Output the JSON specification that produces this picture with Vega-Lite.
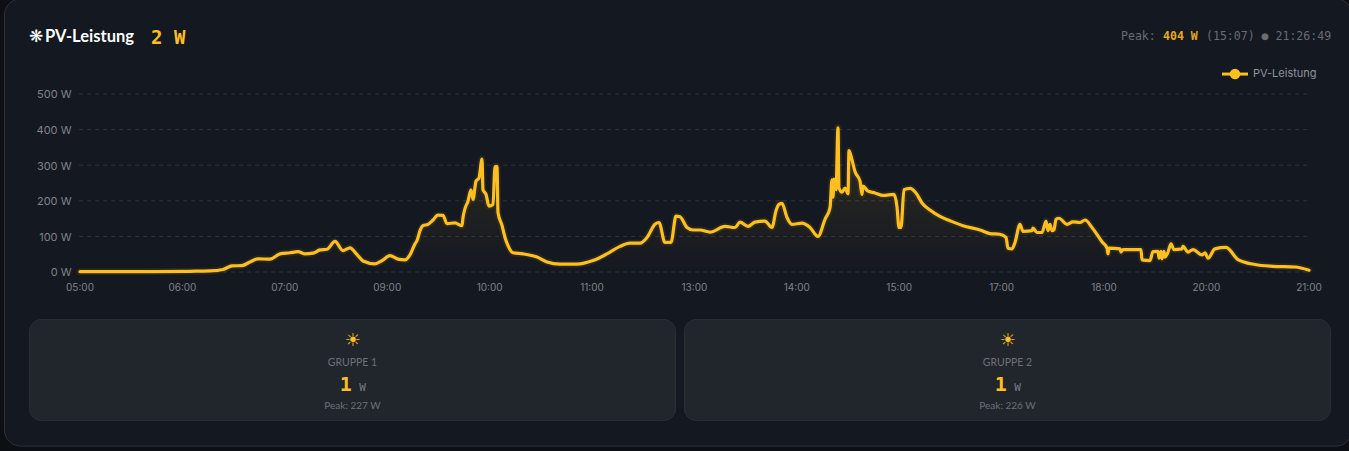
{"$schema":"https://vega.github.io/schema/vega-lite/v6.json","width":1349,"height":451,"autosize":"none","padding":0,"background":"#0c0f14","config":{"view":{"stroke":null},"text":{"baseline":"middle"}},
"datasets":{"pv":[{"s":0,"w":1},{"s":60,"w":1},{"s":110,"w":2},{"s":130,"w":3},{"s":143,"w":7},{"s":152,"w":17},{"s":162,"w":18},{"s":170,"w":28},{"s":178,"w":37},{"s":190,"w":36},{"s":200,"w":51},{"s":210,"w":54},{"s":218,"w":57},{"s":225,"w":51},{"s":233,"w":53},{"s":240,"w":62},{"s":247,"w":64},{"s":255,"w":86},{"s":263,"w":60},{"s":270,"w":68},{"s":277,"w":49},{"s":283,"w":31},{"s":295,"w":23},{"s":302,"w":32},{"s":310,"w":46},{"s":318,"w":36},{"s":325,"w":34},{"s":330,"w":48},{"s":335,"w":79},{"s":337,"w":88},{"s":340,"w":116},{"s":343,"w":130},{"s":348,"w":134},{"s":353,"w":146},{"s":358,"w":160},{"s":363,"w":159},{"s":367,"w":136},{"s":375,"w":138},{"s":382,"w":130},{"s":383,"w":153},{"s":385,"w":178},{"s":388,"w":199},{"s":391,"w":231},{"s":393,"w":204},{"s":396,"w":255},{"s":399,"w":264},{"s":402,"w":317},{"s":403,"w":231},{"s":406,"w":218},{"s":409,"w":185},{"s":413,"w":190},{"s":415,"w":296},{"s":417,"w":296},{"s":418,"w":167},{"s":422,"w":131},{"s":425,"w":97},{"s":428,"w":74},{"s":433,"w":54},{"s":443,"w":51},{"s":457,"w":42},{"s":467,"w":28},{"s":480,"w":22},{"s":497,"w":22},{"s":513,"w":32},{"s":527,"w":51},{"s":540,"w":72},{"s":550,"w":81},{"s":560,"w":81},{"s":567,"w":97},{"s":575,"w":134},{"s":579,"w":139},{"s":585,"w":83},{"s":591,"w":83},{"s":596,"w":157},{"s":600,"w":155},{"s":607,"w":125},{"s":613,"w":118},{"s":620,"w":118},{"s":630,"w":112},{"s":645,"w":128},{"s":655,"w":125},{"s":660,"w":140},{"s":668,"w":128},{"s":675,"w":140},{"s":685,"w":143},{"s":692,"w":125},{"s":696,"w":172},{"s":699,"w":190},{"s":702,"w":193},{"s":707,"w":153},{"s":712,"w":134},{"s":722,"w":137},{"s":730,"w":125},{"s":738,"w":100},{"s":745,"w":148},{"s":750,"w":180},{"s":752,"w":259},{"s":753,"w":210},{"s":754,"w":261},{"s":756,"w":231},{"s":758,"w":405},{"s":759,"w":236},{"s":762,"w":224},{"s":765,"w":236},{"s":768,"w":220},{"s":769,"w":341},{"s":772,"w":315},{"s":775,"w":282},{"s":780,"w":255},{"s":782,"w":218},{"s":783,"w":241},{"s":788,"w":227},{"s":795,"w":222},{"s":803,"w":215},{"s":814,"w":218},{"s":817,"w":183},{"s":819,"w":125},{"s":821,"w":125},{"s":824,"w":231},{"s":830,"w":235},{"s":836,"w":222},{"s":842,"w":194},{"s":850,"w":174},{"s":860,"w":156},{"s":870,"w":144},{"s":883,"w":130},{"s":900,"w":118},{"s":910,"w":108},{"s":920,"w":106},{"s":926,"w":97},{"s":928,"w":67},{"s":932,"w":65},{"s":935,"w":83},{"s":940,"w":134},{"s":943,"w":114},{"s":952,"w":116},{"s":953,"w":123},{"s":957,"w":111},{"s":962,"w":111},{"s":966,"w":143},{"s":968,"w":116},{"s":970,"w":134},{"s":972,"w":116},{"s":974,"w":119},{"s":976,"w":148},{"s":979,"w":151},{"s":987,"w":134},{"s":993,"w":141},{"s":1000,"w":139},{"s":1005,"w":146},{"s":1012,"w":125},{"s":1022,"w":85},{"s":1027,"w":67},{"s":1028,"w":51},{"s":1029,"w":67},{"s":1040,"w":65},{"s":1041,"w":56},{"s":1043,"w":63},{"s":1061,"w":63},{"s":1062,"w":34},{"s":1070,"w":32},{"s":1073,"w":57},{"s":1078,"w":58},{"s":1079,"w":39},{"s":1081,"w":58},{"s":1082,"w":37},{"s":1084,"w":58},{"s":1085,"w":42},{"s":1088,"w":56},{"s":1091,"w":79},{"s":1094,"w":63},{"s":1102,"w":65},{"s":1103,"w":72},{"s":1108,"w":56},{"s":1113,"w":63},{"s":1122,"w":48},{"s":1125,"w":54},{"s":1128,"w":39},{"s":1135,"w":65},{"s":1146,"w":69},{"s":1158,"w":35},{"s":1175,"w":21},{"s":1193,"w":16},{"s":1215,"w":14},{"s":1229,"w":5}]},
"layer":[
{"data":{"values":[{"panel":"PV-Leistung"}]},"mark":{"type":"rect","fill":"#141821","stroke":"#2e323a","strokeWidth":1,"cornerRadius":16},"encoding":{"x":{"datum":-75.5},"x2":{"datum":1272},"y":{"datum":767},"y2":{"datum":-489}}},
{"data":{"values":[{"panel":"Gruppe 1"}]},"mark":{"type":"rect","fill":"#21252c","stroke":"#2b2f37","strokeWidth":1,"cornerRadius":12},"encoding":{"x":{"datum":-50.5},"x2":{"datum":595.5},"y":{"datum":-133.4},"y2":{"datum":-417.1}}},
{"data":{"values":[{"panel":"Gruppe 2"}]},"mark":{"type":"rect","fill":"#21252c","stroke":"#2b2f37","strokeWidth":1,"cornerRadius":12},"encoding":{"x":{"datum":604.5},"x2":{"datum":1250.5},"y":{"datum":-133.4},"y2":{"datum":-417.1}}},
{"data":{"values":[{"g":0},{"g":100},{"g":200},{"g":300},{"g":400},{"g":500}]},"mark":{"type":"rule","stroke":"#30343b","strokeWidth":1,"strokeDash":[4,4]},"encoding":{"x":{"datum":-1},"x2":{"datum":1231},"y":{"field":"g","type":"quantitative"}}},
{"data":{"name":"pv"},"mark":{"type":"area","interpolate":"monotone","color":{"gradient":"linear","x1":0,"y1":0,"x2":0,"y2":1,"stops":[{"offset":0,"color":"rgba(255,192,31,0.12)"},{"offset":1,"color":"rgba(255,192,31,0)"}]}},"encoding":{"x":{"field":"s","type":"quantitative"},"y":{"field":"w","type":"quantitative"},"y2":{"datum":0}}},
{"data":{"name":"pv"},"mark":{"type":"line","interpolate":"monotone","stroke":"#ffc01f","strokeWidth":7,"opacity":0.08,"strokeJoin":"round","strokeCap":"round"},"encoding":{"x":{"field":"s","type":"quantitative"},"y":{"field":"w","type":"quantitative"}}},
{"data":{"name":"pv"},"mark":{"type":"line","interpolate":"monotone","stroke":"#ffc01f","strokeWidth":3.2,"strokeJoin":"round","strokeCap":"round"},"encoding":{"x":{"field":"s","type":"quantitative","scale":{"domain":[-80,1269],"nice":false,"zero":false},"axis":{"orient":"bottom","offset":-179,"zindex":1,"title":null,"values":[0,102.4,204.8,307.2,409.6,512,614.4,716.8,819.2,921.6,1024,1126.4,1229],"labelExpr":"['05:00','06:00','07:00','09:00','10:00','11:00','13:00','14:00','15:00','17:00','18:00','20:00','21:00'][round(datum.value/102.4)]","domain":false,"ticks":false,"grid":false,"labelFont":"Inter","labelFontSize":10,"labelColor":"#808389","labelPadding":10,"labelOffset":-0.5,"labelOverlap":false,"labelBound":false,"labelFlush":false}},"y":{"field":"w","type":"quantitative","scale":{"domain":[-502.8,764],"nice":false,"zero":false},"axis":{"orient":"left","offset":-80,"zindex":1,"title":null,"values":[0,100,200,300,400,500],"labelExpr":"datum.value+' W'","domain":false,"ticks":false,"grid":false,"labelFont":"Inter","labelFontSize":11,"labelColor":"#808389","labelPadding":9,"labelOffset":1,"labelOverlap":false,"labelBound":false}}}},
{"data":{"values":[{"t":"❋"}]},"mark":{"type":"text","font":"DejaVu Sans","fontSize":17,"fontWeight":"bold","fill":"#ffffff","align":"center"},"encoding":{"x":{"datum":-44},"y":{"datum":660},"text":{"field":"t"}}},
{"data":{"values":[{"t":"PV-Leistung"}]},"mark":{"type":"text","font":"Lato","fontSize":16.5,"fontWeight":"bold","fill":"#ffffff","align":"left"},"encoding":{"x":{"datum":-35},"y":{"datum":660},"text":{"field":"t"}}},
{"data":{"values":[{"t":"2 W"}]},"mark":{"type":"text","font":"DejaVu Sans Mono","fontSize":19,"fontWeight":"bold","fill":"#ffc01f","align":"left"},"encoding":{"x":{"datum":71},"y":{"datum":658},"text":{"field":"t"}}},
{"data":{"values":[{"t":"Peak:"}]},"mark":{"type":"text","font":"DejaVu Sans Mono","fontSize":11.55,"fill":"#686c74","align":"left"},"encoding":{"x":{"datum":1041},"y":{"datum":659},"text":{"field":"t"}}},
{"data":{"values":[{"t":"404 W"}]},"mark":{"type":"text","font":"DejaVu Sans Mono","fontSize":11.55,"fontWeight":"bold","fill":"#e3aa1e","align":"left"},"encoding":{"x":{"datum":1083},"y":{"datum":659},"text":{"field":"t"}}},
{"data":{"values":[{"t":"(15:07) ● 21:26:49"}]},"mark":{"type":"text","font":"DejaVu Sans Mono","fontSize":11.55,"fill":"#686c74","align":"left"},"encoding":{"x":{"datum":1126},"y":{"datum":659},"text":{"field":"t"}}},
{"data":{"values":[{"series":"PV-Leistung"}]},"mark":{"type":"rule","stroke":"#ffc01f","strokeWidth":3},"encoding":{"x":{"datum":1142},"x2":{"datum":1168},"y":{"datum":556}}},
{"data":{"values":[{"series":"PV-Leistung"}]},"mark":{"type":"point","filled":true,"fill":"#ffc01f","opacity":1,"size":110},"encoding":{"x":{"datum":1155},"y":{"datum":556}}},
{"data":{"values":[{"series":"PV-Leistung"}]},"mark":{"type":"text","font":"Inter","fontSize":11,"fill":"#8f939a","align":"left"},"encoding":{"x":{"datum":1173},"y":{"datum":556},"text":{"field":"series"}}},
{"data":{"values":[{"t":"☀"}]},"mark":{"type":"text","font":"DejaVu Sans","fontSize":18,"fontWeight":"bold","fill":"#ffc01f","align":"center"},"encoding":{"x":{"datum":272.5},"y":{"datum":-194},"text":{"field":"t"}}},
{"data":{"values":[{"t":"☀"}]},"mark":{"type":"text","font":"DejaVu Sans","fontSize":18,"fontWeight":"bold","fill":"#ffc01f","align":"center"},"encoding":{"x":{"datum":927.5},"y":{"datum":-194},"text":{"field":"t"}}},
{"data":{"values":[{"t":"GRUPPE 1"}]},"mark":{"type":"text","font":"Lato","fontSize":10.5,"fill":"#6d7178","align":"center"},"encoding":{"x":{"datum":272.5},"y":{"datum":-256},"text":{"field":"t"}}},
{"data":{"values":[{"t":"GRUPPE 2"}]},"mark":{"type":"text","font":"Lato","fontSize":10.5,"fill":"#6d7178","align":"center"},"encoding":{"x":{"datum":927.5},"y":{"datum":-256},"text":{"field":"t"}}},
{"data":{"values":[{"v":1}]},"mark":{"type":"text","font":"DejaVu Sans Mono","fontSize":20,"fontWeight":"bold","fill":"#ffc01f","align":"center"},"encoding":{"x":{"datum":265.7},"y":{"datum":-318},"text":{"field":"v"}}},
{"data":{"values":[{"v":1}]},"mark":{"type":"text","font":"DejaVu Sans Mono","fontSize":20,"fontWeight":"bold","fill":"#ffc01f","align":"center"},"encoding":{"x":{"datum":920.7},"y":{"datum":-318},"text":{"field":"v"}}},
{"data":{"values":[{"t":"W"}]},"mark":{"type":"text","font":"DejaVu Sans Mono","fontSize":11,"fill":"#7a7e85","align":"center"},"encoding":{"x":{"datum":282.5},"y":{"datum":-326},"text":{"field":"t"}}},
{"data":{"values":[{"t":"W"}]},"mark":{"type":"text","font":"DejaVu Sans Mono","fontSize":11,"fill":"#7a7e85","align":"center"},"encoding":{"x":{"datum":937.5},"y":{"datum":-326},"text":{"field":"t"}}},
{"data":{"values":[{"t":"Peak: 227 W"}]},"mark":{"type":"text","font":"Lato","fontSize":10,"fill":"#6d7178","align":"center"},"encoding":{"x":{"datum":272.5},"y":{"datum":-377},"text":{"field":"t"}}},
{"data":{"values":[{"t":"Peak: 226 W"}]},"mark":{"type":"text","font":"Lato","fontSize":10,"fill":"#6d7178","align":"center"},"encoding":{"x":{"datum":927.5},"y":{"datum":-377},"text":{"field":"t"}}}
]}
